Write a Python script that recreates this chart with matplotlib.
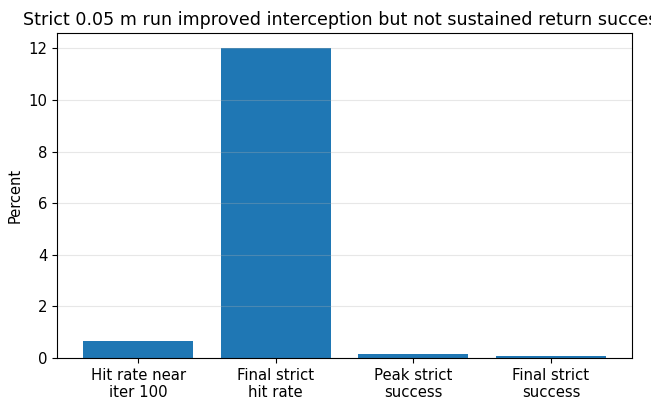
import matplotlib
matplotlib.use("Agg")
import matplotlib.pyplot as plt

categories = ["Hit rate near\niter 100", "Final strict\nhit rate", "Peak strict\nsuccess", "Final strict\nsuccess"]
values = [0.66, 12.0, 0.17, 0.09]

fig, ax = plt.subplots(figsize=(6.51, 4.01), dpi=100)
fig.subplots_adjust(left=0.0876, right=0.971, top=0.918, bottom=0.107)
ax.bar(categories, values, color="#1f77b4")
ax.set_ylabel("Percent", fontsize=10.5)
ax.set_title("Strict 0.05 m run improved interception but not sustained return success", fontsize=12.6)
ax.tick_params(labelsize=10.7)
ax.set_ylim(0, 12.6)
ax.grid(axis="y", alpha=0.3)
fig.savefig("out.png", dpi=100)
